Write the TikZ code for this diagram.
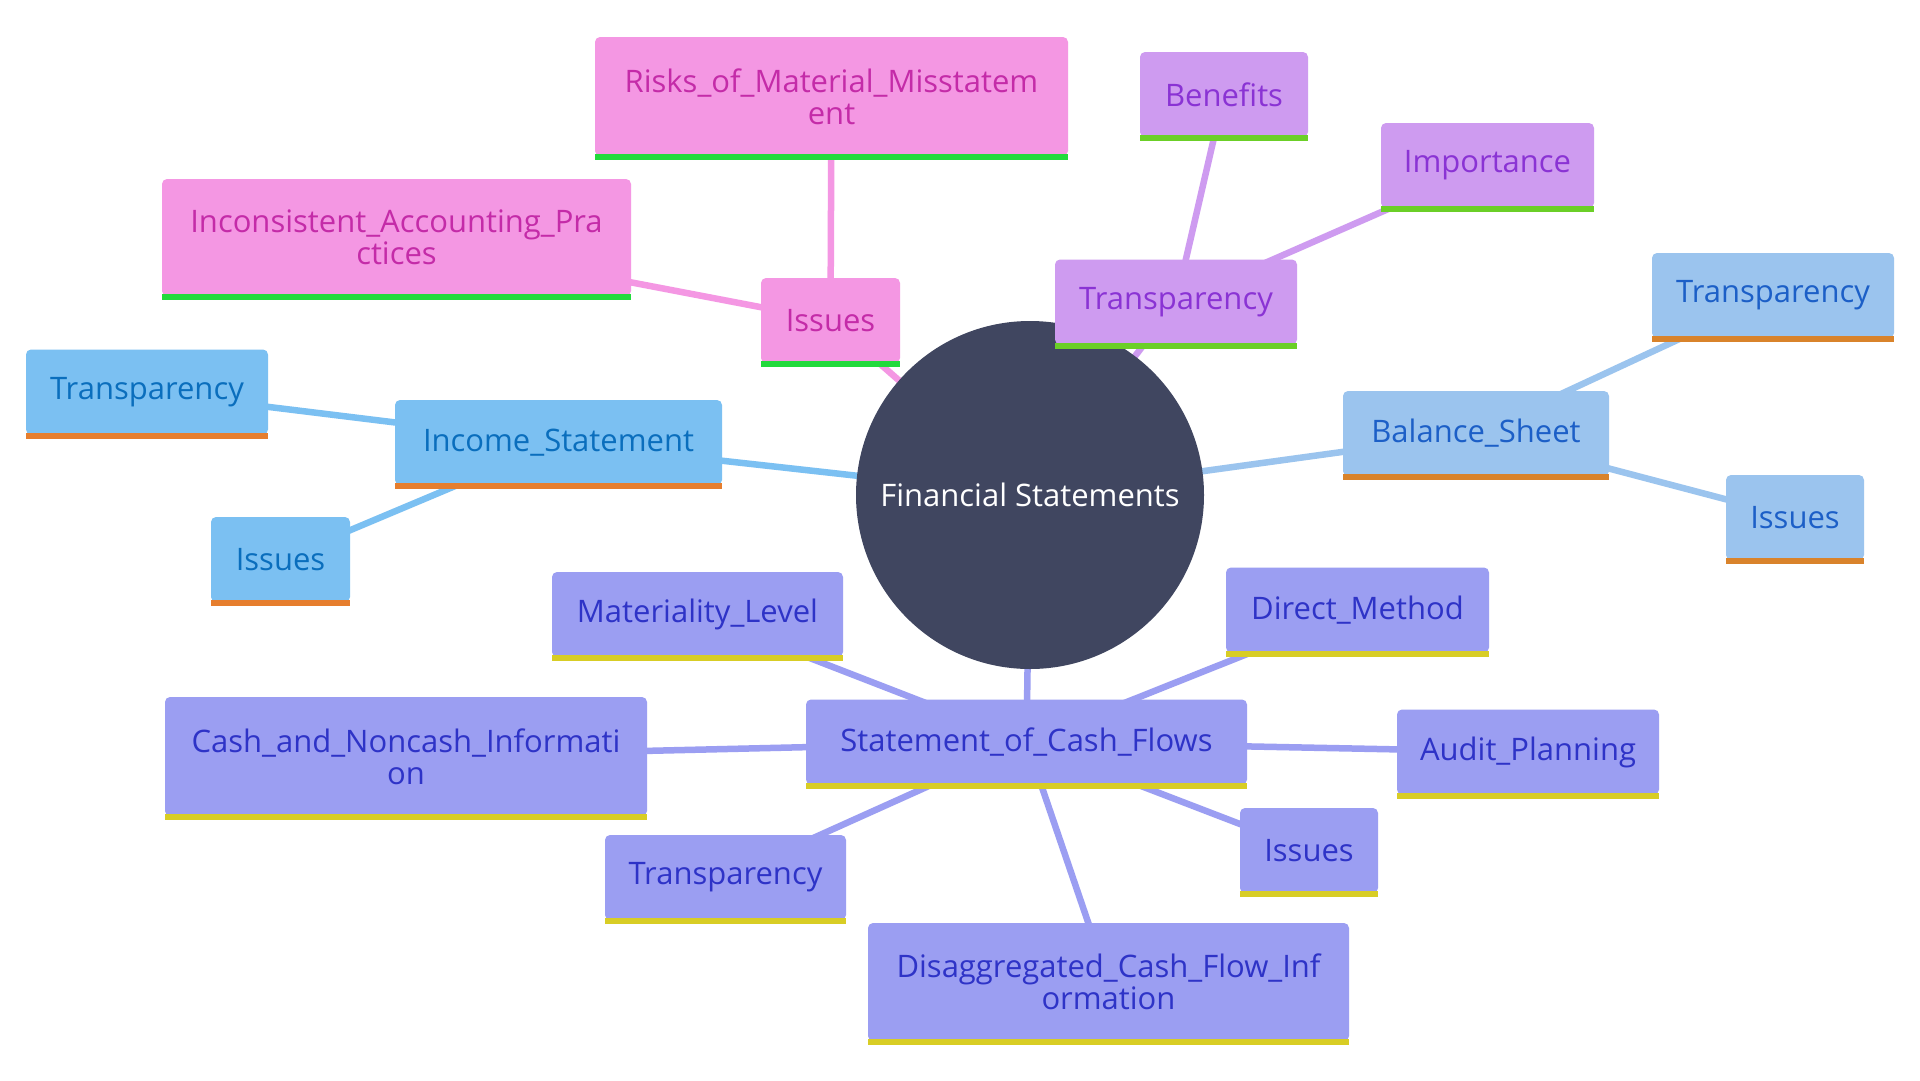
\documentclass[tikz,border=0pt]{standalone}
\usepackage{fontspec}
\setmainfont{Open Sans}
\usetikzlibrary{backgrounds}
\definecolor{pinkF}{HTML}{F497E3}
\definecolor{pinkT}{HTML}{C42BA8}
\definecolor{pinkB}{HTML}{22DA3C}
\definecolor{purF}{HTML}{CE9BF0}
\definecolor{purT}{HTML}{8A33D4}
\definecolor{purB}{HTML}{6BCF27}
\definecolor{incF}{HTML}{7BC0F2}
\definecolor{incT}{HTML}{0A6EBD}
\definecolor{incB}{HTML}{E67E2E}
\definecolor{balF}{HTML}{9BC4EE}
\definecolor{balT}{HTML}{1C5FC7}
\definecolor{balB}{HTML}{D9832B}
\definecolor{lavF}{HTML}{9B9EF2}
\definecolor{lavT}{HTML}{2E33C7}
\definecolor{lavB}{HTML}{D8CD25}
\definecolor{rootC}{HTML}{404660}
\newcommand\mmbar[2]{\fill[#2] ([yshift=-4pt]#1.south west) rectangle ([yshift=2pt]#1.south east);}
\begin{document}
\begin{tikzpicture}[x=1pt,y=-1pt,
  box/.style={rectangle, rounded corners=5pt, inner sep=0pt, align=center, yshift=2pt,
    font=\fontsize{31}{32}\selectfont},
  pinkbox/.style={box, fill=pinkF, text=pinkT},
  purbox/.style={box, fill=purF, text=purT},
  incbox/.style={box, fill=incF, text=incT},
  balbox/.style={box, fill=balF, text=balT},
  lavbox/.style={box, fill=lavF, text=lavT},
  edge/.style={line width=6.5pt, draw=#1},
  sz/.style 2 args={minimum width=#1pt, minimum height=#2pt-4pt}]
\useasboundingbox (0,0) rectangle (1920,1080);
% root
\node[circle, fill=rootC, minimum size=348pt, inner sep=0pt, text=white,
  font=\fontsize{31}{32}\selectfont] (root) at (1030,495) {Financial Statements};
% pink branch
\node[pinkbox, sz={139}{89}] (pissues) at (830.5,322.5) {Issues};
\node[pinkbox, sz={473}{123}] (risks) at (831.5,98.5) {Risks\_of\_Material\_Misstatem\\ent};
\node[pinkbox, sz={469}{121}] (incons) at (396.5,239.5) {Inconsistent\_Accounting\_Pra\\ctices};
% purple branch
\node[purbox, sz={242}{89}] (ptransp) at (1176,304) {Transparency};
\node[purbox, sz={168}{89}] (benefits) at (1224,96.5) {Benefits};
\node[purbox, sz={213}{89}] (importance) at (1487.5,167.5) {Importance};
% income branch
\node[incbox, sz={327}{89}] (income) at (558.5,444.5) {Income\_Statement};
\node[incbox, sz={242}{89}] (ltransp) at (147,394) {Transparency};
\node[incbox, sz={139}{89}] (lissues) at (280.5,561.5) {Issues};
% balance branch
\node[balbox, sz={266}{89}] (balance) at (1476,435.5) {Balance\_Sheet};
\node[balbox, sz={242}{89}] (rtransp) at (1773,297.5) {Transparency};
\node[balbox, sz={138}{89}] (rissues) at (1795,519.5) {Issues};
% cash flow branch
\node[lavbox, sz={441}{89}] (scf) at (1026.5,744) {Statement\_of\_Cash\_Flows};
\node[lavbox, sz={291}{89}] (material) at (697.5,616.5) {Materiality\_Level};
\node[lavbox, sz={482}{123}] (cashnon) at (406,758.5) {Cash\_and\_Noncash\_Informati\\on};
\node[lavbox, sz={263}{89}] (direct) at (1357.5,612) {Direct\_Method};
\node[lavbox, sz={262}{89}] (audit) at (1528,754) {Audit\_Planning};
\node[lavbox, sz={138}{89}] (bissues) at (1309,852.5) {Issues};
\node[lavbox, sz={481}{122}] (disagg) at (1108.5,984) {Disaggregated\_Cash\_Flow\_Inf\\ormation};
\node[lavbox, sz={241}{89}] (btransp) at (725.5,879.5) {Transparency};
% bars
\mmbar{pissues}{pinkB}\mmbar{risks}{pinkB}\mmbar{incons}{pinkB}
\mmbar{ptransp}{purB}\mmbar{benefits}{purB}\mmbar{importance}{purB}
\mmbar{income}{incB}\mmbar{ltransp}{incB}\mmbar{lissues}{incB}
\mmbar{balance}{balB}\mmbar{rtransp}{balB}\mmbar{rissues}{balB}
\mmbar{scf}{lavB}\mmbar{material}{lavB}\mmbar{cashnon}{lavB}\mmbar{direct}{lavB}
\mmbar{audit}{lavB}\mmbar{bissues}{lavB}\mmbar{disagg}{lavB}\mmbar{btransp}{lavB}
% edges
\begin{scope}[on background layer]
\fill[white] (0,0) rectangle (1920,1080);
\draw[edge=pinkF] (root.center) -- (pissues.center);
\draw[edge=pinkF] (pissues.center) -- (risks.center);
\draw[edge=pinkF] (pissues.center) -- (incons.center);
\draw[edge=purF] (root.center) -- (ptransp.center);
\draw[edge=purF] (ptransp.center) -- (benefits.center);
\draw[edge=purF] (ptransp.center) -- (importance.center);
\draw[edge=incF] (root.center) -- (income.center);
\draw[edge=incF] (income.center) -- (ltransp.center);
\draw[edge=incF] (income.center) -- (lissues.center);
\draw[edge=balF] (root.center) -- (balance.center);
\draw[edge=balF] (balance.center) -- (rtransp.center);
\draw[edge=balF] (balance.center) -- (rissues.center);
\draw[edge=lavF] (root.center) -- (scf.center);
\draw[edge=lavF] (scf.center) -- (material.center);
\draw[edge=lavF] (scf.center) -- (cashnon.center);
\draw[edge=lavF] (scf.center) -- (direct.center);
\draw[edge=lavF] (scf.center) -- (audit.center);
\draw[edge=lavF] (scf.center) -- (bissues.center);
\draw[edge=lavF] (scf.center) -- (disagg.center);
\draw[edge=lavF] (scf.center) -- (btransp.center);
\end{scope}
\end{tikzpicture}
\end{document}
